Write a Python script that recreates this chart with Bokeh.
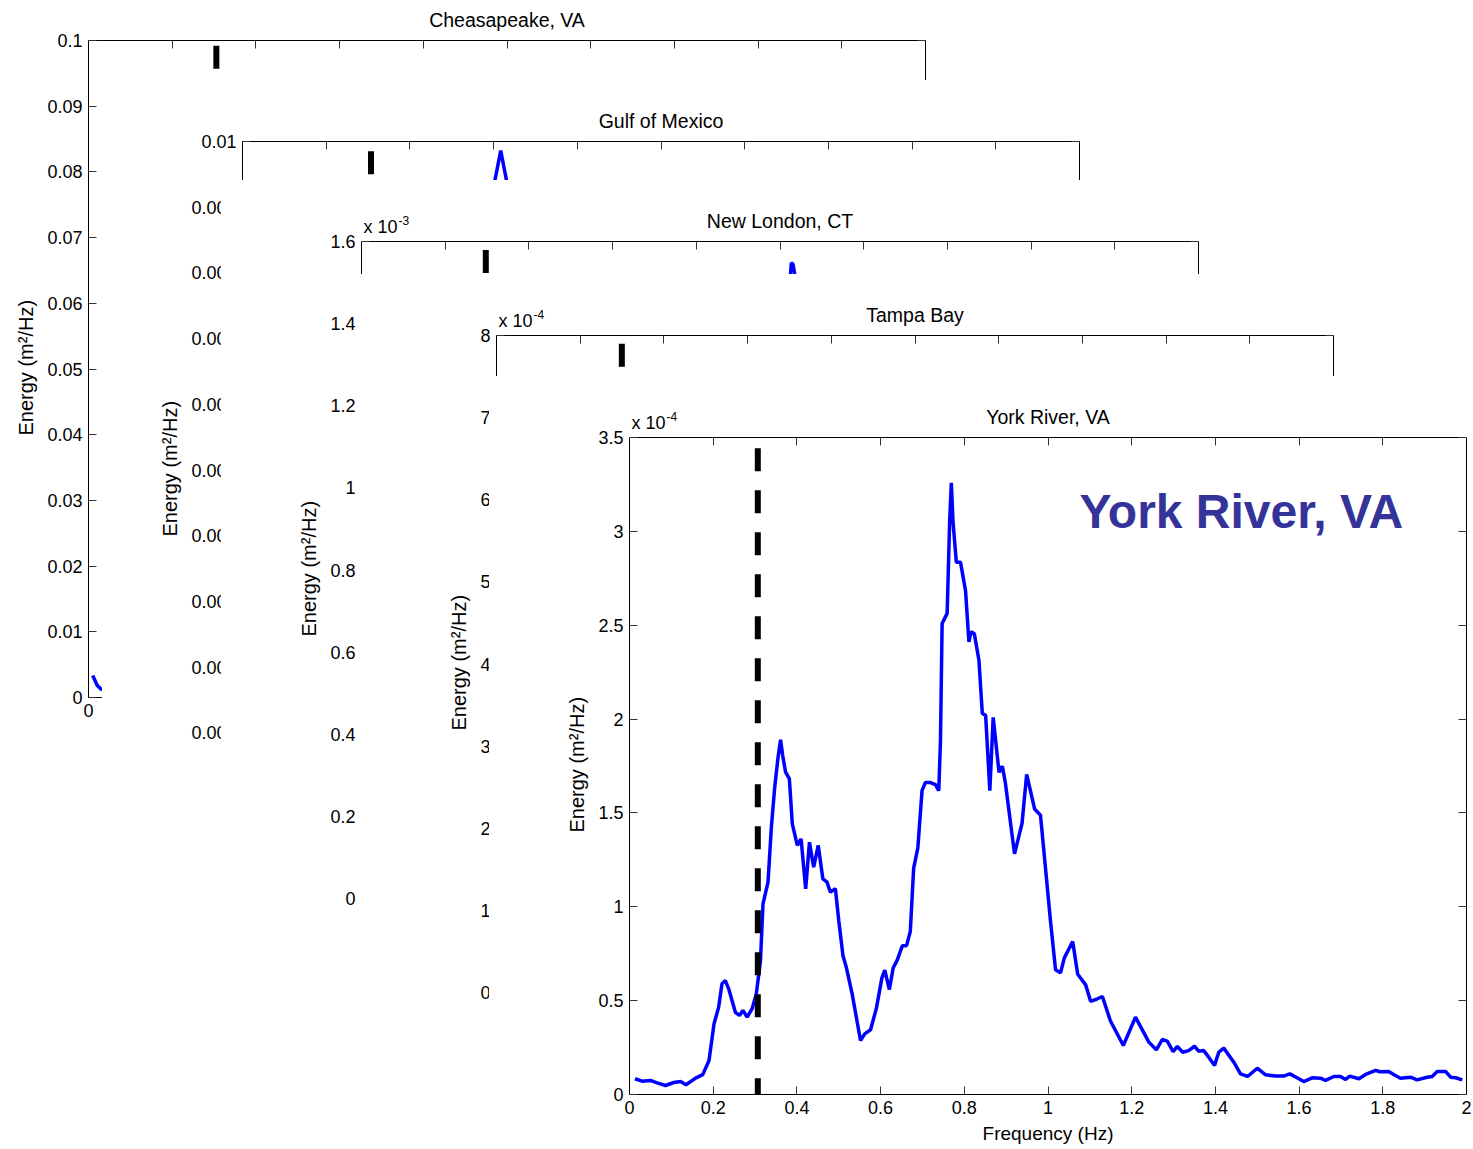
from bokeh.plotting import figure
from bokeh.models import (Range1d, LinearAxis, FixedTicker, CustomJSTickFormatter,
                          Label, Column, Title)
from bokeh.embed import file_html
from bokeh.resources import INLINE

FONT = "Liberation Sans"

# ---------------- data ----------------
titles = ["Cheasapeake, VA", "Gulf of Mexico", "New London, CT", "Tampa Bay", "York River, VA"]
y_max = [0.1, 0.01, 1.6, 8.0, 3.5]          # axis top (displayed units)
y_step = [0.01, 0.001, 0.2, 1.0, 0.5]
y_exponent = [None, None, "-3", "-4", "-4"]  # MATLAB-style axis multiplier
x_ticks = [0, 0.2, 0.4, 0.6, 0.8, 1, 1.2, 1.4, 1.6, 1.8, 2]
x_label = "Frequency (Hz)"
y_label = "Energy (m²/Hz)"

# cutoff frequency (dashed line) and its top value, per panel
cutoff_freq = [0.3055, 0.307, 0.297, 0.2995, 0.3066]
cutoff_top = [0.0992, 0.00985, 1.579, 7.90, 3.443]

# visible fragments of the back spectra
ches_freq = [0.010, 0.021, 0.029, 0.033]
ches_energy = [0.00335, 0.00183, 0.00132, 0.0012]
gulf_freq = [0.595, 0.617, 0.639]
gulf_energy = [0.00914, 0.00986, 0.00914]
nl_freq = [1.018, 1.024, 1.027, 1.031, 1.042]
nl_energy = [1.47, 1.50, 1.548, 1.545, 1.48]          # x 10^-3
tampa_freq = []
tampa_energy = []

# York River spectrum (x 10^-4 m^2/Hz)
york_freq = [0.013, 0.030, 0.050, 0.066, 0.086, 0.106, 0.122, 0.135, 0.158, 0.175,
             0.190, 0.202, 0.213, 0.221, 0.229, 0.237, 0.253, 0.263, 0.271, 0.281,
             0.293, 0.303, 0.313, 0.319, 0.331, 0.339, 0.347, 0.355, 0.361, 0.366,
             0.373, 0.382, 0.389, 0.401, 0.410, 0.421, 0.430, 0.440, 0.451, 0.462,
             0.472, 0.480, 0.492, 0.500, 0.510, 0.518, 0.532, 0.552, 0.562, 0.576,
             0.590, 0.603, 0.610, 0.621, 0.630, 0.640, 0.652, 0.662, 0.671, 0.679,
             0.689, 0.699, 0.707, 0.719, 0.731, 0.739, 0.743, 0.747, 0.759, 0.765,
             0.769, 0.773, 0.781, 0.791, 0.803, 0.811, 0.816, 0.824, 0.835, 0.843,
             0.851, 0.861, 0.869, 0.883, 0.891, 0.898, 0.920, 0.938, 0.949, 0.968,
             0.982, 0.994, 1.006, 1.018, 1.030, 1.039, 1.059, 1.071, 1.090, 1.102,
             1.118, 1.130, 1.149, 1.180, 1.209, 1.241, 1.259, 1.273, 1.285, 1.299,
             1.309, 1.322, 1.336, 1.350, 1.360, 1.372, 1.384, 1.398, 1.408, 1.420,
             1.444, 1.460, 1.477, 1.500, 1.520, 1.544, 1.563, 1.578, 1.595, 1.611,
             1.631, 1.651, 1.663, 1.683, 1.699, 1.711, 1.721, 1.743, 1.759, 1.783,
             1.794, 1.814, 1.826, 1.842, 1.866, 1.882, 1.906, 1.918, 1.930, 1.950,
             1.962, 1.974, 1.990]
york_energy = [0.084, 0.071, 0.075, 0.062, 0.048, 0.064, 0.069, 0.052, 0.087, 0.106,
               0.181, 0.377, 0.465, 0.590, 0.607, 0.563, 0.438, 0.421, 0.448, 0.412,
               0.457, 0.536, 0.714, 1.016, 1.131, 1.424, 1.637, 1.797, 1.890, 1.806,
               1.717, 1.682, 1.442, 1.327, 1.362, 1.096, 1.344, 1.211, 1.327, 1.149,
               1.131, 1.078, 1.096, 0.927, 0.741, 0.678, 0.536, 0.288, 0.323, 0.345,
               0.460, 0.620, 0.663, 0.559, 0.674, 0.717, 0.793, 0.793, 0.869, 1.206,
               1.314, 1.619, 1.662, 1.662, 1.651, 1.619, 1.879, 2.509, 2.563, 3.052,
               3.258, 3.052, 2.835, 2.835, 2.683, 2.411, 2.465, 2.454, 2.313, 2.030,
               2.020, 1.619, 2.009, 1.716, 1.749, 1.662, 1.282, 1.445, 1.705, 1.521,
               1.488, 1.206, 0.923, 0.665, 0.648, 0.728, 0.815, 0.641, 0.584, 0.496,
               0.510, 0.522, 0.393, 0.261, 0.412, 0.279, 0.238, 0.293, 0.284, 0.229,
               0.256, 0.225, 0.234, 0.257, 0.231, 0.234, 0.199, 0.155, 0.225, 0.247,
               0.172, 0.110, 0.096, 0.140, 0.105, 0.098, 0.098, 0.110, 0.089, 0.069,
               0.089, 0.087, 0.075, 0.096, 0.096, 0.080, 0.098, 0.084, 0.107, 0.128,
               0.121, 0.123, 0.107, 0.087, 0.092, 0.078, 0.092, 0.096, 0.123, 0.123,
               0.092, 0.089, 0.078]

curves = [(ches_freq, ches_energy), (gulf_freq, gulf_energy), (nl_freq, nl_energy),
          (tampa_freq, tampa_energy), (york_freq, york_energy)]

overlay_text = "York River, VA"

# ---------------- layout (window placement of each stacked panel) ----------------
win_left = [-52, 102, 221, 356, 489]
win_top = [-21, 80, 180, 274, 376]
BORDER_L, BORDER_T, BORDER_R, BORDER_B = 140, 25, 10, 55
AXES_W, AXES_H = 837, 657
HEAD = 36                      # frame room above the axes box (title, multiplier)
YLABEL_START = 262             # px from the x axis to the start of the y label

fmt_num = CustomJSTickFormatter(code="return String(parseFloat(tick.toFixed(6)));")
fmt_none = CustomJSTickFormatter(code="return '';")


def style_axis(ax, labels=True):
    ax.axis_line_color = "black"
    ax.axis_line_width = 1
    ax.major_tick_in = 8
    ax.major_tick_out = 0
    ax.major_tick_line_color = "#333333"
    ax.minor_tick_line_color = None
    ax.major_label_text_font = FONT
    ax.axis_label_text_font = FONT
    ax.axis_label_text_font_style = "normal"
    ax.axis_label_text_font_size = "19px"
    ax.axis_label_text_color = "black"
    if labels:
        ax.major_label_text_font_size = "18px"
        ax.major_label_text_color = "black"
        ax.major_label_standoff = 6
        ax.axis_label_standoff = 6
    else:
        ax.major_label_text_font_size = "0px"
        ax.major_label_standoff = 0


def text_label(x, y, text, size, dx=0, dy=0, align="left", **kw):
    return Label(x=x, y=y, text=text, x_offset=dx, y_offset=dy, text_font=FONT,
                 text_font_size=size, text_align=align, text_baseline="middle",
                 text_color=kw.pop("color", "black"), **kw)


panels = []
for i in range(5):
    n = int(round(y_max[i] / y_step[i]))
    yt = [round(k * y_step[i], 6) for k in range(n + 1)]
    y_top_frame = y_max[i] * (AXES_H + HEAD) / AXES_H
    p = figure(x_range=Range1d(0, 2), y_range=Range1d(0, y_top_frame),
               frame_width=AXES_W, frame_height=AXES_H + HEAD,
               min_border_left=BORDER_L, min_border_top=BORDER_T,
               min_border_right=BORDER_R, min_border_bottom=BORDER_B,
               output_backend="svg", toolbar_location=None,
               styles={"position": "absolute", "left": f"{win_left[i]}px",
                       "top": f"{win_top[i]}px", "z-index": str(i + 1),
                       "background-color": "white"})
    p.background_fill_color = "white"
    p.border_fill_color = "white"
    p.outline_line_color = None
    p.xgrid.visible = False
    p.ygrid.visible = False

    xa = p.xaxis[0]
    xa.ticker = FixedTicker(ticks=x_ticks)
    xa.formatter = fmt_num
    xa.axis_label = x_label
    style_axis(xa)
    ya = p.yaxis[0]
    ya.ticker = FixedTicker(ticks=yt)
    ya.formatter = fmt_num
    ya.bounds = (0, y_max[i])
    style_axis(ya)
    # y-axis label, centred on the axes box (not on the taller frame)
    p.add_layout(Title(text=y_label, align="left", offset=YLABEL_START, standoff=16,
                       text_font=FONT, text_font_size="20px", text_font_style="normal",
                       text_color="black"), "left")

    top_ax = LinearAxis(ticker=FixedTicker(ticks=x_ticks), formatter=fmt_none,
                        fixed_location=y_max[i])
    style_axis(top_ax, labels=False)
    p.add_layout(top_ax, "above")
    right_ax = LinearAxis(ticker=FixedTicker(ticks=yt), formatter=fmt_none,
                          bounds=(0, y_max[i]))
    style_axis(right_ax, labels=False)
    p.add_layout(right_ax, "right")

    f, e = curves[i]
    if len(f):
        p.line(f, e, line_color="#0000ff", line_width=3.5)
    p.line([cutoff_freq[i], cutoff_freq[i]], [cutoff_top[i], 0],
           line_color="black", line_width=6, line_dash="23 19")

    # title and multiplier, placed just above the axes box
    p.add_layout(text_label(1.0, y_max[i], titles[i], "19.5px", dy=21, align="center"))
    if y_exponent[i]:
        p.add_layout(text_label(0, y_max[i], "x 10", "18px", dx=2, dy=15))
        p.add_layout(text_label(0, y_max[i], y_exponent[i], "12px", dx=37, dy=21))
    if i == 4:
        p.add_layout(text_label(1.075, 3.104, overlay_text, "48px",
                                color="#333399", text_font_style="bold"))
    panels.append(p)

root = Column(children=panels, width=1473, height=1149,
              styles={"position": "absolute", "left": "0px", "top": "0px",
                      "width": "1473px", "height": "1149px", "overflow": "hidden"})

open("out.html", "w").write(file_html(root, INLINE))
